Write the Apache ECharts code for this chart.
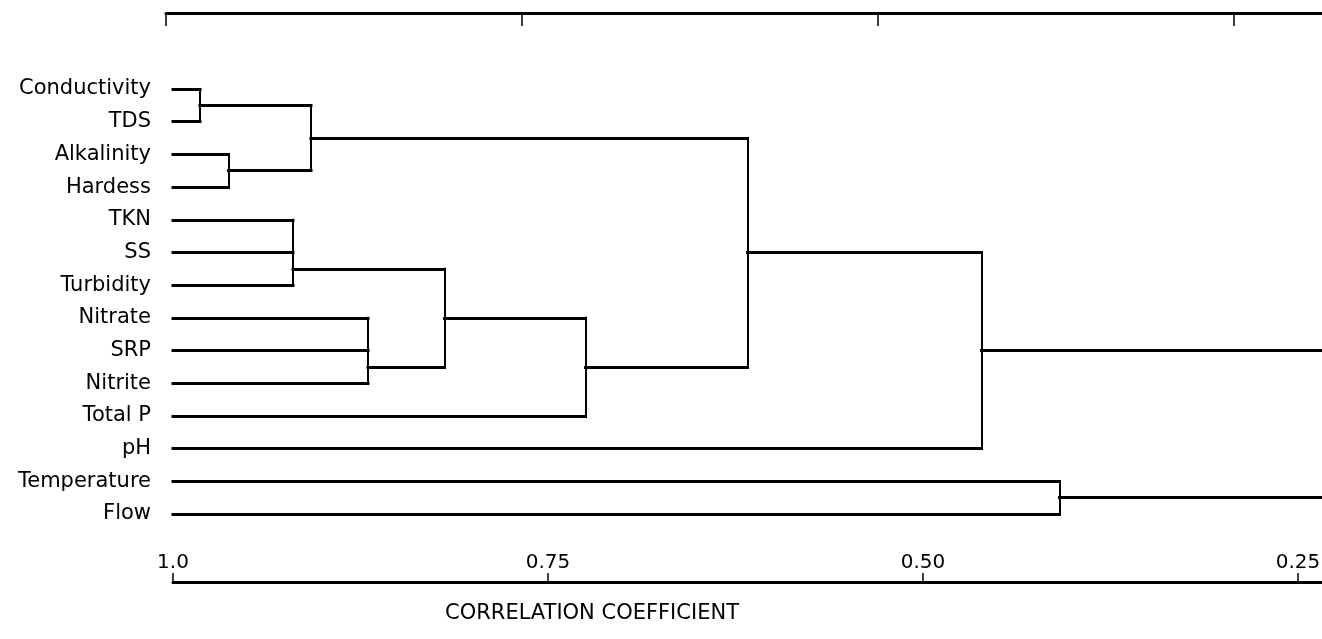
<!DOCTYPE html>
<html>
<head>
<meta charset="utf-8">
<title>Dendrogram of water quality variables</title>
<script src="https://cdn.jsdelivr.net/npm/echarts@6/dist/echarts.min.js"></script>
<style>
  html, body { margin: 0; padding: 0; background: #fff; }
  #chart { width: 1322px; height: 639px; }
</style>
</head>
<body>
<div id="chart"></div>
<script>
// Variables in dendrogram order, top to bottom
const leafNames = ['Conductivity', 'TDS', 'Alkalinity', 'Hardess', 'TKN', 'SS', 'Turbidity',
  'Nitrate', 'SRP', 'Nitrite', 'Total P', 'pH', 'Temperature', 'Flow'];

// Clusters, their members and the correlation at which they join
const clusterIds = ['C1', 'C2', 'C3', 'C4', 'C5', 'C6', 'C7', 'C8', 'C9', 'C10'];
const clusterMembers = [
  ['Conductivity', 'TDS'],
  ['Alkalinity', 'Hardess'],
  ['C1', 'C2'],
  ['TKN', 'SS', 'Turbidity'],
  ['Nitrate', 'SRP', 'Nitrite'],
  ['C4', 'C5'],
  ['C6', 'Total P'],
  ['C3', 'C7'],
  ['C8', 'pH'],
  ['Temperature', 'Flow']
];
const clusterLevels = [0.982, 0.963, 0.908, 0.920, 0.870, 0.819, 0.725, 0.617, 0.461, 0.409];

// Correlation axis: labelled ticks and the visible range
const tickValues = [1.0, 0.75, 0.5, 0.25];
const tickLabels = ['1.0', '0.75', '0.50', '0.25'];
const axisMax = 1.0;
const axisMin = 0.234;

// Plain frame rule along the top, with evenly spaced ticks
const topTicks = [0, 1, 2, 3];
const topMax = 3.249;

// Build the tree geometry in data units (x = correlation, y = leaf row)
const levelOf = {};
const rowOf = {};
leafNames.forEach(function (n, i) { levelOf[n] = 1.0; rowOf[n] = i; });

const horizontal = [];
const vertical = [];
const usedAsChild = {};
clusterIds.forEach(function (id, i) {
  const kids = clusterMembers[i];
  const lvl = clusterLevels[i];
  const rows = kids.map(function (k) { return rowOf[k]; });
  kids.forEach(function (k) {
    usedAsChild[k] = true;
    horizontal.push({ coords: [[levelOf[k], rowOf[k]], [lvl, rowOf[k]]] });
  });
  vertical.push({ coords: [[lvl, Math.min.apply(null, rows)], [lvl, Math.max.apply(null, rows)]] });
  levelOf[id] = lvl;
  // the stem leaves from between the last two members joined
  rowOf[id] = (rows[rows.length - 2] + rows[rows.length - 1]) / 2;
});
// Top-level clusters continue to the edge of the scale
clusterIds.forEach(function (id) {
  if (!usedAsChild[id]) {
    horizontal.push({ coords: [[levelOf[id], rowOf[id]], [axisMin, rowOf[id]]] });
  }
});

const FONT = 'DejaVu Sans';
const INK = '#000';
const chart = echarts.init(document.getElementById('chart'), null, { renderer: 'canvas' });

chart.setOption({
  backgroundColor: '#ffffff',
  animation: false,
  title: {
    text: 'CORRELATION COEFFICIENT',
    left: 440,
    top: 598,
    textStyle: { fontFamily: FONT, fontSize: 21, fontWeight: 'normal', color: INK }
  },
  grid: [
    { left: 173, right: 0, top: 72.65, height: 457.7, containLabel: false, outerBoundsMode: 'none' },
    { left: 166, right: 0, top: 13, height: 1, containLabel: false, outerBoundsMode: 'none' }
  ],
  xAxis: [
    {
      gridIndex: 0,
      type: 'value',
      position: 'bottom',
      inverse: true,
      min: axisMin,
      max: axisMax,
      offset: 51.65,
      axisLine: { show: true, onZero: false, lineStyle: { color: INK, width: 3 } },
      axisTick: {
        show: true, inside: true, length: 9, customValues: tickValues,
        lineStyle: { color: INK, width: 1.5 }
      },
      axisLabel: {
        show: true,
        inside: true,
        margin: 9,
        customValues: tickValues,
        fontFamily: FONT,
        fontSize: 20,
        color: INK,
        formatter: function (v) {
          const i = tickValues.findIndex(function (t) { return Math.abs(t - v) < 1e-9; });
          return i < 0 ? '' : tickLabels[i];
        }
      },
      splitLine: { show: false }
    },
    {
      gridIndex: 1,
      type: 'value',
      position: 'top',
      min: 0,
      max: topMax,
      axisLine: { show: true, onZero: false, lineStyle: { color: INK, width: 3 } },
      axisTick: {
        show: true, inside: true, length: 13, customValues: topTicks,
        lineStyle: { color: INK, width: 1.5 }
      },
      axisLabel: { show: false },
      splitLine: { show: false }
    }
  ],
  yAxis: [
    {
      gridIndex: 0,
      type: 'category',
      inverse: true,
      data: leafNames,
      axisLine: { show: false },
      axisTick: { show: false },
      splitLine: { show: false },
      axisLabel: { margin: 22, fontFamily: FONT, fontSize: 21, color: INK }
    },
    {
      gridIndex: 0,
      type: 'value',
      inverse: true,
      min: -0.5,
      max: leafNames.length - 0.5,
      show: false
    },
    {
      gridIndex: 1,
      type: 'value',
      show: false
    }
  ],
  series: [
    {
      name: 'links',
      type: 'lines',
      coordinateSystem: 'cartesian2d',
      xAxisIndex: 0,
      yAxisIndex: 1,
      silent: true,
      lineStyle: { color: INK, width: 3, opacity: 1, cap: 'square' },
      data: horizontal
    },
    {
      name: 'joins',
      type: 'lines',
      coordinateSystem: 'cartesian2d',
      xAxisIndex: 0,
      yAxisIndex: 1,
      silent: true,
      lineStyle: { color: INK, width: 2, opacity: 1, cap: 'square' },
      data: vertical
    }
  ]
});
</script>
</body>
</html>
